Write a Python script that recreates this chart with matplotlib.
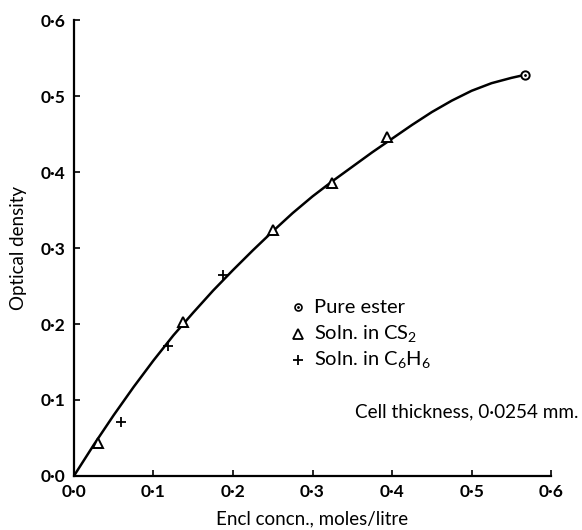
import numpy as np
import matplotlib
matplotlib.use("Agg")
import matplotlib.pyplot as plt

plt.rcParams['font.family'] = ['Lato', 'DejaVu Sans']
plt.rcParams['mathtext.fontset'] = 'custom'
plt.rcParams['mathtext.rm'] = 'Lato'
plt.rcParams['mathtext.it'] = 'Lato'

# data
pure_x = [0.567]
pure_y = [0.528]
cs2_x = [0.030, 0.137, 0.250, 0.325, 0.394]
cs2_y = [0.043, 0.203, 0.324, 0.385, 0.446]
c6h6_x = [0.059, 0.118, 0.187]
c6h6_y = [0.071, 0.171, 0.264]
curve_x = [0.0, 0.025, 0.05, 0.075, 0.1, 0.125, 0.15, 0.175, 0.2, 0.225, 0.25,
           0.275, 0.3, 0.325, 0.35, 0.375, 0.4, 0.425, 0.45, 0.475, 0.5, 0.525,
           0.55, 0.567]
curve_y = [0.0, 0.041, 0.080, 0.117, 0.152, 0.185, 0.215, 0.244, 0.271, 0.297,
           0.322, 0.346, 0.368, 0.388, 0.407, 0.426, 0.444, 0.462, 0.479, 0.494,
           0.507, 0.517, 0.524, 0.528]
ticks = [0.0, 0.1, 0.2, 0.3, 0.4, 0.5, 0.6]
tick_labels = ['0·0', '0·1', '0·2', '0·3', '0·4', '0·5', '0·6']

fig = plt.figure(figsize=(5.82, 5.30), dpi=100)
ax = fig.add_axes([0.127, 0.102, 0.82, 0.86])

ax.plot(curve_x, curve_y, color='black', lw=1.8, solid_joinstyle='round')
ax.plot(cs2_x, cs2_y, ls='none', marker='^', ms=7, mfc='white', mec='black', mew=1.4)
ax.plot(c6h6_x, c6h6_y, ls='none', marker='+', ms=7, color='black', mew=1.3)
ax.plot(pure_x, pure_y, ls='none', marker='o', ms=6, mfc='white', mec='black', mew=1.4)
ax.plot(pure_x, pure_y, ls='none', marker='.', ms=2, color='black')

ax.set_xlim(0, 0.6)
ax.set_ylim(0, 0.6)
ax.spines['top'].set_visible(False)
ax.spines['right'].set_visible(False)
ax.spines['left'].set_linewidth(1.6)
ax.spines['bottom'].set_linewidth(1.6)
ax.set_xticks(ticks)
ax.set_yticks(ticks)
ax.set_xticklabels(tick_labels, fontsize=12.5, fontweight='bold')
ax.set_yticklabels(tick_labels, fontsize=12.5, fontweight='bold')
ax.tick_params(direction='in', length=4, width=1.2, pad=6)

ax.set_xlabel('Encl concn., moles/litre', fontsize=13.5, labelpad=7)
ax.set_ylabel('Optical density', fontsize=13.5, labelpad=10)

# key
kx = 0.282
ax.plot([kx], [0.222], marker='o', ms=5, mfc='white', mec='black', mew=1.2)
ax.plot([kx], [0.222], marker='.', ms=2, color='black')
ax.plot([kx], [0.187], marker='^', ms=7, mfc='white', mec='black', mew=1.3)
ax.plot([kx], [0.153], marker='+', ms=7, color='black', mew=1.3)
ax.text(0.302, 0.222, 'Pure ester', fontsize=14.5, va='center')
ax.text(0.302, 0.187, 'Soln. in CS$_2$', fontsize=14.5, va='center')
ax.text(0.302, 0.153, 'Soln. in C$_6$H$_6$', fontsize=14.5, va='center')
ax.text(0.353, 0.084, 'Cell thickness, 0·0254 mm.', fontsize=13.6, va='center')

fig.savefig('out.png', dpi=100)
